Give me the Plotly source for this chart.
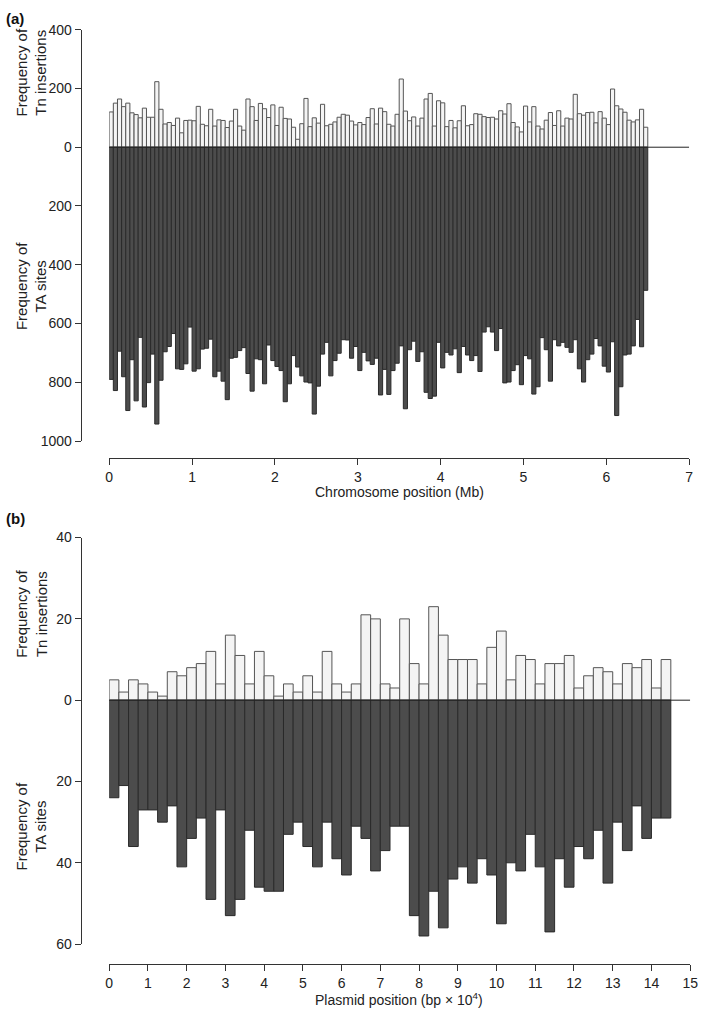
import plotly.graph_objects as go

# ---------------- data ----------------
# Panel (a): chromosome, 50 kb bins
chrom_bin_mb = 0.05
tn_chrom = [120,150,164,138,150,117,111,100,133,102,102,223,129,79,84,74,99,49,91,92,90,139,78,73,129,72,93,91,67,89,129,72,58,164,138,91,149,131,101,144,74,136,98,96,68,27,
            80,166,70,100,82,146,73,78,86,102,112,109,89,76,84,77,101,131,79,133,121,78,72,112,232,123,90,103,72,99,164,183,72,158,151,70,91,66,90,141,73,77,114,112,104,
            101,102,96,124,113,148,84,69,52,140,86,138,72,62,92,118,74,124,72,99,96,180,114,109,118,119,83,121,99,77,198,141,130,119,92,86,93,129,68]
ta_chrom = [790,828,694,781,896,723,863,647,884,801,704,942,793,696,678,634,754,756,737,612,762,754,687,684,653,781,762,796,859,718,715,692,682,770,830,720,723,805,673,726,746,760,866,805,709,748,
            778,799,802,908,813,704,664,778,726,701,655,656,718,678,760,698,727,739,718,843,756,841,760,735,676,890,689,660,729,696,834,855,847,664,751,698,707,686,767,678,707,726,709,763,629,
            611,629,692,617,802,799,760,740,808,709,720,840,815,648,689,796,655,676,664,681,698,655,754,799,723,704,651,676,745,765,662,913,815,707,704,676,586,679,487]

# Panel (b): plasmid, 2.5 kb bins (units of 10^4 bp)
plas_bin = 0.25
tn_plas = [5,2,5,4,2,1,7,6,8,9,12,4,16,11,4,12,6,1,4,2,6,2,12,4,2,4,21,20,4,3,
           20,9,4,23,16,10,10,10,4,13,17,5,11,10,4,9,9,11,3,6,8,7,4,9,8,10,3,10]
ta_plas = [24,21,36,27,27,30,26,41,34,29,49,27,53,49,32,46,47,47,33,30,36,41,30,39,43,31,34,42,37,31,
           31,53,58,47,56,44,41,45,39,43,55,40,42,33,41,57,39,46,36,39,32,45,30,37,26,34,29,29]

chrom_ticks = list(range(0, 8))
chrom_y_ticks = [-1000, -800, -600, -400, -200, 0, 200, 400]
plas_ticks = list(range(0, 16))
plas_y_ticks = [-60, -40, -20, 0, 20, 40]

# ---------------- figure ----------------
W, H = 709, 1021
def fx(px): return px / W
def fy(px): return 1 - px / H

FONT = "Liberation Sans, Arial, Helvetica, sans-serif"
LIGHT = "#f4f4f4"; LIGHT_LINE = "#555555"
DARK = "#4c4c4c"; DARK_LINE = "#2a2a2a"

xa = [(i + 0.5) * chrom_bin_mb for i in range(len(tn_chrom))]
xb = [(j + 0.5) * plas_bin for j in range(len(tn_plas))]

fig = go.Figure()
fig.add_trace(go.Bar(x=xa, y=tn_chrom, width=chrom_bin_mb, xaxis="x", yaxis="y",
                     marker=dict(color=LIGHT, line=dict(color=LIGHT_LINE, width=1))))
fig.add_trace(go.Bar(x=xa, y=[-v for v in ta_chrom], width=chrom_bin_mb, xaxis="x", yaxis="y",
                     marker=dict(color=DARK, line=dict(color=DARK_LINE, width=1))))
fig.add_trace(go.Bar(x=xb, y=tn_plas, width=plas_bin, xaxis="x2", yaxis="y2",
                     marker=dict(color=LIGHT, line=dict(color=LIGHT_LINE, width=1))))
fig.add_trace(go.Bar(x=xb, y=[-v for v in ta_plas], width=plas_bin, xaxis="x2", yaxis="y2",
                     marker=dict(color=DARK, line=dict(color=DARK_LINE, width=1))))

tickfont = dict(family=FONT, size=14, color="#222222")
common = dict(ticks="outside", ticklen=6, tickwidth=1, tickcolor="#333333", showline=True,
              linecolor="#333333", linewidth=1, showgrid=False, zeroline=False,
              tickfont=tickfont, anchor="free", fixedrange=True)

fig.update_layout(
    width=W, height=H, margin=dict(l=0, r=0, t=0, b=0),
    paper_bgcolor="white", plot_bgcolor="white", showlegend=False, barmode="overlay",
    xaxis=dict(domain=[fx(107), fx(697)], range=[0, 7], tickvals=chrom_ticks,
               position=fy(457), **common),
    yaxis=dict(domain=[fy(440), fy(22)], range=[-1000, 400], tickvals=chrom_y_ticks,
               ticktext=[str(abs(v)) for v in chrom_y_ticks], position=fx(78), **common),
    xaxis2=dict(domain=[fx(107), fx(698)], range=[0, 15], tickvals=plas_ticks,
                position=fy(971), **common),
    yaxis2=dict(domain=[fy(951), fy(538)], range=[-60, 40], tickvals=plas_y_ticks,
                ticktext=[str(abs(v)) for v in plas_y_ticks], position=fx(78), **common),
    shapes=[
        dict(type="line", xref="x", yref="y", x0=0, x1=7, y0=0, y1=0,
             line=dict(color="#222222", width=1)),
        dict(type="line", xref="x2", yref="y2", x0=0, x1=15, y0=0, y1=0,
             line=dict(color="#222222", width=1)),
    ],
)

ann_font = dict(family=FONT, size=14, color="#222222")
ylab_font = dict(family=FONT, size=15, color="#222222")
annotations = [
    dict(text="<b>(a)</b>", x=fx(0), y=fy(0), xanchor="left", yanchor="top",
         font=dict(family=FONT, size=15, color="#111111")),
    dict(text="<b>(b)</b>", x=fx(0), y=fy(508), xanchor="left", yanchor="top",
         font=dict(family=FONT, size=15, color="#111111")),
    dict(text="Frequency of<br>Tn insertions", x=fx(28), y=fy(66), textangle=-90,
         xanchor="center", yanchor="middle", font=ylab_font),
    dict(text="Frequency of<br>TA sites", x=fx(28), y=fy(283), textangle=-90,
         xanchor="center", yanchor="middle", font=ylab_font),
    dict(text="Frequency of<br>Tn insertions", x=fx(28), y=fy(616), textangle=-90,
         xanchor="center", yanchor="middle", font=ylab_font),
    dict(text="Frequency of<br>TA sites", x=fx(28), y=fy(832), textangle=-90,
         xanchor="center", yanchor="middle", font=ylab_font),
    dict(text="Chromosome position (Mb)", x=fx(402), y=fy(492), xanchor="center",
         yanchor="middle", font=ann_font),
    dict(text="Plasmid position (bp × 10<sup>4</sup>)", x=fx(402), y=fy(1007),
         xanchor="center", yanchor="middle", font=ann_font),
]
for a in annotations:
    a.update(xref="paper", yref="paper", showarrow=False)
fig.update_layout(annotations=annotations)

fig.write_html("out.html", config={"displayModeBar": False},
               post_script="document.body.style.margin='0px';document.body.style.overflow='hidden';")
